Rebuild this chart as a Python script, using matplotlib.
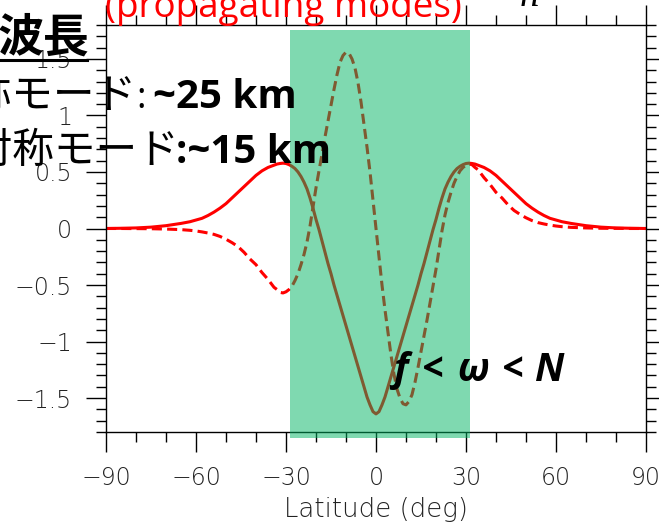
import matplotlib
matplotlib.use("Agg")
import matplotlib.pyplot as plt
from matplotlib.patches import Rectangle
from matplotlib.lines import Line2D
from matplotlib.ticker import MultipleLocator

# latitude grid (deg): coarse outside the band, 1 deg inside
lat = ([-90, -85, -80, -75, -70, -65, -62, -60, -58, -56, -54, -52, -50, -48, -46, -44,
        -42, -40, -38, -36]
       + list(range(-34, 35))
       + [36, 38, 40, 42, 44, 46, 48, 50, 52, 54, 56, 58, 60, 62, 65, 70, 75, 80, 85, 90])

# symmetric mode (solid)
sym = [0.0, 0.002, 0.005, 0.012, 0.025, 0.045, 0.06, 0.075, 0.09, 0.115, 0.145, 0.18, 0.22,
       0.27, 0.32, 0.37, 0.42, 0.47, 0.51, 0.54,
       0.56, 0.57, 0.575, 0.578, 0.575, 0.565, 0.55, 0.53, 0.50, 0.46, 0.41, 0.35, 0.27,
       0.18, 0.08, -0.01, -0.11, -0.21, -0.31, -0.40, -0.50, -0.59, -0.68, -0.77, -0.86,
       -0.95, -1.04, -1.13, -1.22, -1.31, -1.40, -1.49, -1.56, -1.62,
       -1.64,
       -1.62, -1.56, -1.49, -1.40, -1.31, -1.22, -1.13, -1.04, -0.95, -0.86, -0.77, -0.68,
       -0.59, -0.50, -0.40, -0.31, -0.21, -0.11, -0.01, 0.08, 0.18, 0.27, 0.35, 0.41, 0.46,
       0.50, 0.53, 0.55, 0.565, 0.575, 0.578, 0.575, 0.57, 0.56,
       0.54, 0.51, 0.47, 0.42, 0.37, 0.32, 0.27, 0.22, 0.18, 0.145, 0.115, 0.09, 0.075,
       0.06, 0.045, 0.025, 0.012, 0.005, 0.002, 0.0]

# antisymmetric mode (dashed)
asym = [0.0, 0.0, -0.001, -0.002, -0.005, -0.01, -0.016, -0.022, -0.03, -0.04, -0.052, -0.07,
        -0.095, -0.125, -0.16, -0.21, -0.27, -0.32, -0.39, -0.45,
        -0.52, -0.54, -0.565, -0.57, -0.56, -0.54, -0.51, -0.46, -0.40, -0.32, -0.23, -0.12,
        0.02, 0.19, 0.36, 0.51, 0.66, 0.81, 0.95, 1.09, 1.23, 1.36, 1.47, 1.53, 1.56, 1.55,
        1.50, 1.42, 1.29, 1.12, 0.92, 0.72, 0.50, 0.25,
        0.0,
        -0.25, -0.50, -0.72, -0.92, -1.12, -1.29, -1.42, -1.50, -1.55, -1.56, -1.53, -1.47,
        -1.36, -1.23, -1.09, -0.95, -0.81, -0.66, -0.51, -0.36, -0.19, -0.02, 0.12, 0.23,
        0.32, 0.40, 0.46, 0.51, 0.54, 0.56, 0.57, 0.565, 0.54, 0.52,
        0.45, 0.39, 0.32, 0.27, 0.21, 0.16, 0.125, 0.095, 0.07, 0.052, 0.04, 0.03, 0.022,
        0.016, 0.01, 0.005, 0.002, 0.001, 0.0, 0.0]

xticks = [-90, -60, -30, 0, 30, 60, 90]
xticklabels = ["\u221290", "\u221260", "\u221230", "0", "30", "60", "90"]
yticks = [-1.5, -1, -0.5, 0, 0.5, 1, 1.5]
yticklabels = ["\u22121.5", "\u22121", "\u22120.5", "0", "0.5", "1", "1.5"]

W, H = 659, 524
fig = plt.figure(figsize=(W / 100, H / 100), dpi=100)
ax = fig.add_axes([106 / W, 92 / H, 540 / W, 407 / H])

ax.plot(lat, sym, color="red", lw=2.2)
ax.plot(lat, asym, color="red", lw=2.2, dashes=(3.3, 1.7))

ax.set_xlim(-90, 90)
ax.set_ylim(-1.8, 1.8)
ax.set_xticks(xticks, labels=xticklabels)
ax.set_yticks(yticks, labels=yticklabels)
ax.xaxis.set_minor_locator(MultipleLocator(10))
ax.yaxis.set_minor_locator(MultipleLocator(0.1))
ax.tick_params(which="major", direction="out", length=14.4, width=1, top=True, right=True,
               labelsize=17, labelcolor="#222222", pad=10)
ax.tick_params(which="minor", direction="out", length=7.2, width=1, top=True, right=True)
for lab in ax.get_xticklabels() + ax.get_yticklabels():
    lab.set_fontweight("light")
for sp in ax.spines.values():
    sp.set_linewidth(1)


def ftext(px, py, s, **kw):
    # place text by pixel position (from top-left of the image)
    return fig.text(px / W, 1 - py / H, s, va="baseline", **kw)


ftext(376, 517, "Latitude (deg)", ha="center", fontsize=18.7, color="#222222",
      fontweight="light")

# translucent green band over the plot
fig.add_artist(Rectangle((290 / W, 1 - 438 / H), 180 / W, 408 / H, transform=fig.transFigure,
                         facecolor=(0, 180 / 255, 98 / 255), alpha=0.5, edgecolor="none",
                         zorder=2))

# slide overlay texts
ftext(105, 17, "(propagating modes)", color="red", fontsize=26.6, family="Open Sans")
ftext(520, 6, "n", fontsize=28, family="Liberation Serif", style="italic")
ftext(-2, 52, "波長", fontsize=33, family="Noto Sans CJK JP", fontweight="bold")
fig.add_artist(Line2D([0, 87 / W], [1 - 60 / H, 1 - 60 / H], color="black", lw=2.2,
                      transform=fig.transFigure, zorder=3))
ftext(-71, 108, "対称モード", fontsize=30, family="Noto Sans CJK JP")
ftext(136, 108, ":", fontsize=26, family="Open Sans")
ftext(153, 108, "~25 km", fontsize=29, family="Open Sans", fontweight="bold")
ftext(-70, 163, "反対称モード", fontsize=30, family="Noto Sans CJK JP")
ftext(176, 163, ":~15 km", fontsize=29, family="Open Sans", fontweight="bold")

# f < omega < N, spread out like the slide
bi = dict(fontsize=28, family=["Open Sans", "DejaVu Sans"], fontweight="bold", style="italic")
ftext(393, 381, "f", **bi)
ftext(422, 381, "<", **bi)
ftext(457, 381, "ω", **bi)
ftext(502, 381, "<", **bi)
ftext(535, 381, "N", **bi)

fig.savefig("out.png", dpi=100)
